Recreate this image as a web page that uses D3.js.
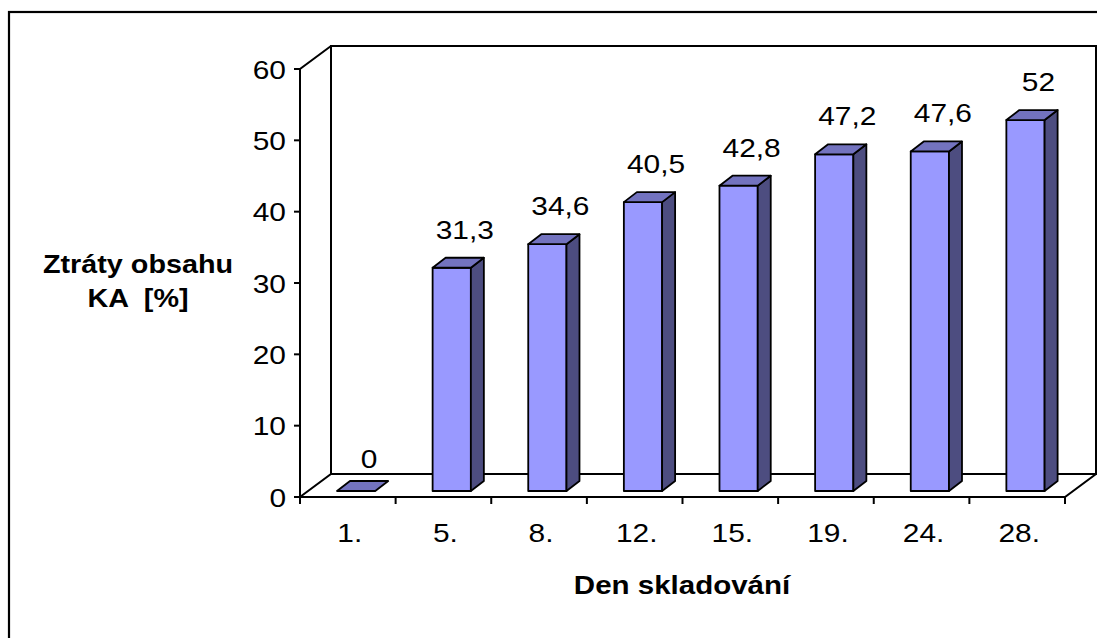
<!DOCTYPE html>
<html>
<head>
<meta charset="utf-8">
<script src="https://cdn.jsdelivr.net/npm/d3@7"></script>
<style>
  html, body { margin: 0; padding: 0; background: #fff; }
  svg { display: block; }
  text { font-family: "Liberation Sans", Arial, sans-serif; fill: #000; white-space: pre; }
</style>
</head>
<body>
<svg id="chart" width="1097" height="638"></svg>
<script>
// Storage days (categories) and measured loss of content in %
const days = ["1.", "5.", "8.", "12.", "15.", "19.", "24.", "28."];
const losses = [0, 31.3, 34.6, 40.5, 42.8, 47.2, 47.6, 52];
const yTicks = [0, 10, 20, 30, 40, 50, 60];
const yTitle = ["Ztráty obsahu", "KA  [%]"];
const xTitle = "Den skladování";

(function () {
const svg = d3.select("#chart");
const W = 1097, H = 638;

// plot box (front plane) and 3D depth offsets
const plotLeft = 300, plotRight = 1065, plotBottom = 497, plotTop = 69;
const depthX = 31, depthY = 23;          // wall/floor depth
const barFrontX = 8.3, barFrontY = 6;    // bar front face set back into the floor
const barDepthX = 13, barDepthY = 10;    // bar thickness
const stretch = 1.15;                    // horizontal widening of lettering

const x = d3.scaleBand().domain(days).range([plotLeft, plotRight]).padding(0);
const y = d3.scaleLinear().domain([0, 60]).range([plotBottom, plotTop]);
const barW = x.bandwidth() * 0.4;

const fmt = v => String(v).replace(".", ",");

// outer frame
svg.append("rect")
  .attr("x", 9).attr("y", 12).attr("width", W + 10).attr("height", H + 10)
  .attr("fill", "#fff").attr("stroke", "#000").attr("stroke-width", 2.2);

const g = svg.append("g");
const line = { stroke: "#000", "stroke-width": 2, fill: "none" };
function path(pts, attrs) {
  const p = g.append("path").attr("d", "M" + pts.map(p => p.join(",")).join("L") + (attrs.close ? "Z" : ""));
  Object.entries(attrs).forEach(([k, v]) => { if (k !== "close") p.attr(k, v); });
  return p;
}

const y0 = y(0), yMax = y(60);
// back wall
path([[plotLeft + depthX, yMax - depthY], [plotRight + depthX, yMax - depthY], [plotRight + depthX, y0 - depthY], [plotLeft + depthX, y0 - depthY]],
  { fill: "#fff", stroke: "#000", "stroke-width": 2, close: true });
// floor
path([[plotLeft, y0], [plotRight, y0], [plotRight + depthX, y0 - depthY], [plotLeft + depthX, y0 - depthY]],
  { fill: "#fff", stroke: "#000", "stroke-width": 2, close: true });
// left wall edges
path([[plotLeft, y0], [plotLeft, yMax], [plotLeft + depthX, yMax - depthY]], line);

// y ticks
g.selectAll(".yt").data(yTicks).join("line")
  .attr("x1", plotLeft - 6).attr("x2", plotLeft)
  .attr("y1", d => y(d)).attr("y2", d => y(d))
  .attr("stroke", "#000").attr("stroke-width", 2);
g.selectAll(".yl").data(yTicks).join("text")
  .attr("text-anchor", "end")
  .attr("font-size", 26)
  .attr("transform", d => `translate(${plotLeft - 14},${y(d) + 9.5}) scale(${stretch},1)`)
  .text(d => d);

// x ticks at category boundaries
const bounds = days.map(d => x(d)).concat([x(days[days.length - 1]) + x.bandwidth()]);
g.selectAll(".xt").data(bounds).join("line")
  .attr("x1", d => d).attr("x2", d => d)
  .attr("y1", y0).attr("y2", y0 + 7)
  .attr("stroke", "#000").attr("stroke-width", 2);
g.selectAll(".xl").data(days).join("text")
  .attr("text-anchor", "middle")
  .attr("font-size", 26)
  .attr("transform", d => `translate(${x(d) + x.bandwidth() / 2 + 2},${y0 + 45}) scale(${stretch},1)`)
  .text(d => d);

// 3D columns
const bars = g.selectAll(".bar").data(days.map((d, i) => ({ day: d, v: losses[i] }))).join("g");
bars.each(function (d) {
  const b = d3.select(this);
  const fx = x(d.day) + x.bandwidth() / 2 - barW / 2 + barFrontX;
  const fb = y(0) - barFrontY;
  const ft = y(d.v) - barFrontY;
  const st = { stroke: "#000", "stroke-width": 1.8, "stroke-linejoin": "round" };
  const poly = (pts, fill) => {
    const p = b.append("path").attr("d", "M" + pts.map(p => p.join(",")).join("L") + "Z").attr("fill", fill);
    Object.entries(st).forEach(([k, v]) => p.attr(k, v));
  };
  if (d.v > 0) {
    poly([[fx, ft], [fx + barW, ft], [fx + barW, fb], [fx, fb]], "#9999ff");
    poly([[fx + barW, ft], [fx + barW + barDepthX, ft - barDepthY], [fx + barW + barDepthX, fb - barDepthY], [fx + barW, fb]], "#4d4d80");
  }
  poly([[fx, ft], [fx + barW, ft], [fx + barW + barDepthX, ft - barDepthY], [fx + barDepthX, ft - barDepthY]], "#7373bf");
  // flat (zero) columns carry their label a little lower
  const gap = d.v > 0 ? 19 : 13;
  b.append("text")
    .attr("text-anchor", "middle")
    .attr("font-size", 26)
    .attr("transform", `translate(${fx + barDepthX + barW / 2},${ft - barDepthY - gap}) scale(${stretch},1)`)
    .text(fmt(d.v));
});

// axis titles
const yt = g.append("text")
  .attr("text-anchor", "middle").attr("font-size", 25).attr("font-weight", "bold")
  .attr("transform", `translate(138,273) scale(${stretch},1)`);
yTitle.forEach((t, i) => yt.append("tspan").attr("x", 0).attr("dy", i === 0 ? 0 : 34).text(t));

g.append("text")
  .attr("text-anchor", "middle").attr("font-size", 25).attr("font-weight", "bold")
  .attr("transform", `translate(682,594) scale(1.18,1)`)
  .text(xTitle);
})();
</script>
</body>
</html>
